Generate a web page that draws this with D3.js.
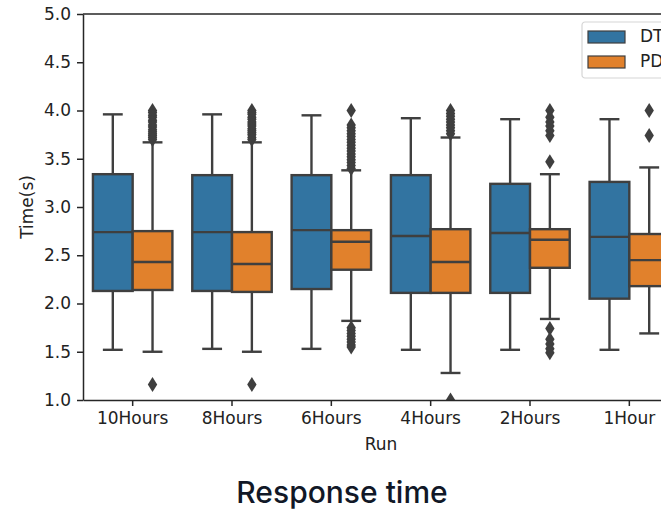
<!DOCTYPE html>
<html>
<head>
<meta charset="utf-8" />
<title>Response time</title>
<script src="https://d3js.org/d3.v7.min.js"></script>
<style>
  body { margin: 0; background: #fff; }
  svg { display: block; }
  text { font-family: "DejaVu Sans", sans-serif; fill: #222; }
  .title { font-family: "Inter", "Lato", sans-serif; font-weight: 500; fill: #111827; }
</style>
</head>
<body>
<svg id="chart" width="661" height="509"></svg>
<script>
// categories and series
const runs = ["10Hours", "8Hours", "6Hours", "4Hours", "2Hours", "1Hour"];
const series = ["DT", "PD"];
const yTicks = [1.0, 1.5, 2.0, 2.5, 3.0, 3.5, 4.0, 4.5, 5.0];

// box stats per run
const dtLow    = [1.52, 1.53, 1.53, 1.52, 1.52, 1.52];
const dtQ1     = [2.13, 2.13, 2.15, 2.11, 2.11, 2.05];
const dtMedian = [2.74, 2.74, 2.76, 2.70, 2.73, 2.69];
const dtQ3     = [3.34, 3.33, 3.33, 3.33, 3.24, 3.26];
const dtHigh   = [3.96, 3.96, 3.95, 3.92, 3.91, 3.91];
const dtOut    = [[], [], [], [], [], []];

const pdLow    = [1.50, 1.50, 1.82, 1.28, 1.84, 1.69];
const pdQ1     = [2.14, 2.12, 2.35, 2.11, 2.37, 2.18];
const pdMedian = [2.43, 2.41, 2.64, 2.43, 2.66, 2.45];
const pdQ3     = [2.75, 2.74, 2.76, 2.77, 2.77, 2.72];
const pdHigh   = [3.67, 3.67, 3.38, 3.72, 3.34, 3.41];
const pdOut    = [
  [4.00, 3.98, 3.95, 3.93, 3.90, 3.88, 3.85, 3.83, 3.80, 3.78, 3.76, 3.74, 3.72, 3.70, 1.16],
  [4.00, 3.98, 3.96, 3.93, 3.91, 3.88, 3.86, 3.84, 3.81, 3.79, 3.77, 3.75, 3.72, 3.70, 1.16],
  [4.00, 3.85, 3.82, 3.79, 3.76, 3.73, 3.70, 3.67, 3.64, 3.61, 3.58, 3.55, 3.52, 3.49, 3.46, 3.43, 3.40,
   1.75, 1.72, 1.69, 1.66, 1.63, 1.60, 1.57, 1.55],
  [4.00, 3.97, 3.94, 3.91, 3.88, 3.85, 3.82, 3.79, 3.76, 1.00],
  [4.00, 3.93, 3.88, 3.84, 3.79, 3.74, 3.47, 1.74, 1.63, 1.58, 1.53, 1.49],
  [4.00, 3.74]
];

const colors = ["#3274a1", "#e1812c"];
const stroke = "#3f3f3f";
const lw = 2.4;

const svg = d3.select("#chart");
const mLeft = 83, mRight = 679, mTop = 14, mBottom = 400;

const x = d3.scaleBand().domain(runs).range([mLeft, mRight]);
const hue = d3.scaleBand().domain(series).range([0.1 * x.bandwidth(), 0.9 * x.bandwidth()]);
const y = d3.scaleLinear().domain([1, 5]).range([mBottom, mTop]);

const boxes = [];
runs.forEach((r, i) => {
  boxes.push({run: r, s: "DT", lo: dtLow[i], q1: dtQ1[i], med: dtMedian[i], q3: dtQ3[i], hi: dtHigh[i], out: dtOut[i]});
  boxes.push({run: r, s: "PD", lo: pdLow[i], q1: pdQ1[i], med: pdMedian[i], q3: pdQ3[i], hi: pdHigh[i], out: pdOut[i]});
});

svg.append("clipPath").attr("id", "plotclip")
  .append("rect").attr("x", mLeft).attr("y", mTop - 8).attr("width", mRight - mLeft).attr("height", mBottom - mTop + 8);

const plot = svg.append("g").attr("clip-path", "url(#plotclip)");
const bw = hue.bandwidth();

const g = plot.selectAll("g.box").data(boxes).enter().append("g")
  .attr("transform", d => `translate(${x(d.run) + hue(d.s)},0)`);

// whiskers
g.append("line").attr("x1", bw / 2).attr("x2", bw / 2)
  .attr("y1", d => y(d.q3)).attr("y2", d => y(d.hi))
  .attr("stroke", stroke).attr("stroke-width", lw);
g.append("line").attr("x1", bw / 2).attr("x2", bw / 2)
  .attr("y1", d => y(d.q1)).attr("y2", d => y(d.lo))
  .attr("stroke", stroke).attr("stroke-width", lw);
// caps
g.append("line").attr("x1", bw / 4).attr("x2", bw * 3 / 4)
  .attr("y1", d => y(d.hi)).attr("y2", d => y(d.hi))
  .attr("stroke", stroke).attr("stroke-width", lw);
g.append("line").attr("x1", bw / 4).attr("x2", bw * 3 / 4)
  .attr("y1", d => y(d.lo)).attr("y2", d => y(d.lo))
  .attr("stroke", stroke).attr("stroke-width", lw);
// box
g.append("rect").attr("x", 0).attr("width", bw)
  .attr("y", d => y(d.q3)).attr("height", d => y(d.q1) - y(d.q3))
  .attr("fill", d => colors[series.indexOf(d.s)])
  .attr("stroke", stroke).attr("stroke-width", lw);
// median
g.append("line").attr("x1", 0).attr("x2", bw)
  .attr("y1", d => y(d.med)).attr("y2", d => y(d.med))
  .attr("stroke", stroke).attr("stroke-width", lw);
// outliers
g.selectAll("path.flier").data(d => d.out).enter().append("path")
  .attr("d", "M0,-7.5 L4.7,0 L0,7.5 L-4.7,0 Z")
  .attr("transform", v => `translate(${bw / 2},${y(v)})`)
  .attr("fill", stroke);

// axes
const xAxis = svg.append("g").attr("transform", `translate(0,${mBottom})`)
  .call(d3.axisBottom(x).tickSize(6).tickPadding(6).tickSizeOuter(0));
const yAxis = svg.append("g").attr("transform", `translate(${mLeft},0)`)
  .call(d3.axisLeft(y).tickValues(yTicks).tickFormat(d3.format(".1f")).tickSize(6).tickPadding(6).tickSizeOuter(0));
[xAxis, yAxis].forEach(a => {
  a.select(".domain").attr("stroke", "#262626").attr("stroke-width", 1.5);
  a.selectAll(".tick line").attr("stroke", "#262626").attr("stroke-width", 1.5);
  a.selectAll(".tick text").attr("font-size", 17).attr("font-family", "DejaVu Sans").attr("fill", "#222");
});
svg.append("line").attr("x1", mLeft).attr("x2", mRight).attr("y1", mTop).attr("y2", mTop)
  .attr("stroke", "#262626").attr("stroke-width", 1.5);
svg.append("line").attr("x1", mRight).attr("x2", mRight).attr("y1", mTop).attr("y2", mBottom)
  .attr("stroke", "#262626").attr("stroke-width", 1.5);

// axis labels
svg.append("text").attr("x", (mLeft + mRight) / 2).attr("y", 450)
  .attr("text-anchor", "middle").attr("font-size", 17).text("Run");
svg.append("text").attr("transform", `translate(33,${(mTop + mBottom) / 2}) rotate(-90)`)
  .attr("text-anchor", "middle").attr("font-size", 17).text("Time(s)");

// legend
const lg = svg.append("g").attr("transform", "translate(582,22)");
lg.append("rect").attr("x", 0).attr("y", 0).attr("width", 110).attr("height", 56)
  .attr("rx", 3).attr("fill", "#fff").attr("fill-opacity", 0.8)
  .attr("stroke", "#d6d6d6").attr("stroke-width", 1.2);
series.forEach((s, i) => {
  lg.append("rect").attr("x", 6).attr("y", 9 + i * 25).attr("width", 37).attr("height", 12)
    .attr("fill", colors[i]).attr("stroke", stroke).attr("stroke-width", 1.2);
  lg.append("text").attr("x", 58).attr("y", 20 + i * 25).attr("font-size", 17).text(s);
});

// title
svg.append("text").attr("class", "title").attr("x", 342).attr("y", 503)
  .attr("text-anchor", "middle").attr("font-size", 30).text("Response time");
</script>
</body>
</html>
